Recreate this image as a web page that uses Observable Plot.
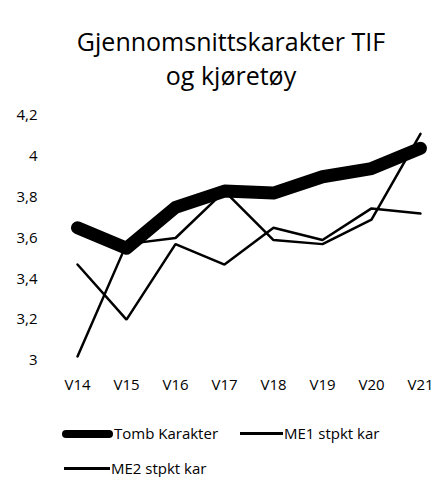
<!DOCTYPE html>
<html>
<head>
<meta charset="utf-8">
<script src="https://cdn.jsdelivr.net/npm/d3@7"></script>
<script src="https://cdn.jsdelivr.net/npm/@observablehq/plot@0.6"></script>
<style>
  body { margin: 0; background: #fff; font-family: "Open Sans", sans-serif; color: #000; }
  #wrap { position: relative; width: 438px; height: 477px; overflow: hidden; }
  #title { position: absolute; left: 0; top: 0; width: 438px; padding-left: 24px; box-sizing: border-box;
           text-align: center; font-size: 25px; line-height: 34px; padding-top: 24px; }
  #chart { position: absolute; left: 0; top: 100px; }
  .leg { position: absolute; display: flex; align-items: center; font-size: 15px; line-height: 17px; white-space: nowrap; }
  .sw { display: inline-block; background: #000; margin-right: 1px; }
</style>
</head>
<body>
<div id="wrap">
  <div id="title">Gjennomsnittskarakter TIF<br>og kjøretøy</div>
  <div id="chart"></div>
  <div class="leg" style="left:62px; top:425px;"><span class="sw" style="width:51px;height:8px;border-radius:4px"></span>Tomb Karakter</div>
  <div class="leg" style="left:240px; top:425px;"><span class="sw" style="width:43px;height:3px"></span>ME1 stpkt kar</div>
  <div class="leg" style="left:64px; top:460px;"><span class="sw" style="width:46px;height:3px"></span>ME2 stpkt kar</div>
</div>
<script>
const seasons = ["V14", "V15", "V16", "V17", "V18", "V19", "V20", "V21"];
const tomb = [3.65, 3.55, 3.75, 3.83, 3.82, 3.90, 3.94, 4.04];
const me1 = [3.47, 3.20, 3.57, 3.47, 3.65, 3.59, 3.745, 3.72];
const me2 = [3.02, 3.57, 3.60, 3.83, 3.59, 3.57, 3.69, 4.11];
const yTicks = [3, 3.2, 3.4, 3.6, 3.8, 4, 4.2];

const rows = (vals) => seasons.map((s, i) => ({ season: s, value: vals[i] }));

const chart = Plot.plot({
  width: 438,
  height: 300,
  marginLeft: 77,
  marginRight: 18,
  marginTop: 15,
  marginBottom: 40,
  style: { fontFamily: "Open Sans, sans-serif", fontSize: "15px", background: "transparent" },
  x: { type: "point", domain: seasons, padding: 0, label: null, tickSize: 0, tickPadding: 19 },
  y: { domain: [3, 4.2], ticks: yTicks, label: null, tickSize: 0, tickPadding: 40,
       tickFormat: d => String(d).replace(".", ",") },
  marks: [
    Plot.line(rows(me1), { x: "season", y: "value", stroke: "#000", strokeWidth: 2.5, strokeLinejoin: "miter" }),
    Plot.line(rows(me2), { x: "season", y: "value", stroke: "#000", strokeWidth: 2.5, strokeLinejoin: "miter" }),
    Plot.line(rows(tomb), { x: "season", y: "value", stroke: "#000", strokeWidth: 13, strokeLinecap: "round", strokeLinejoin: "round" })
  ]
});
document.getElementById("chart").appendChild(chart);
</script>
</body>
</html>
